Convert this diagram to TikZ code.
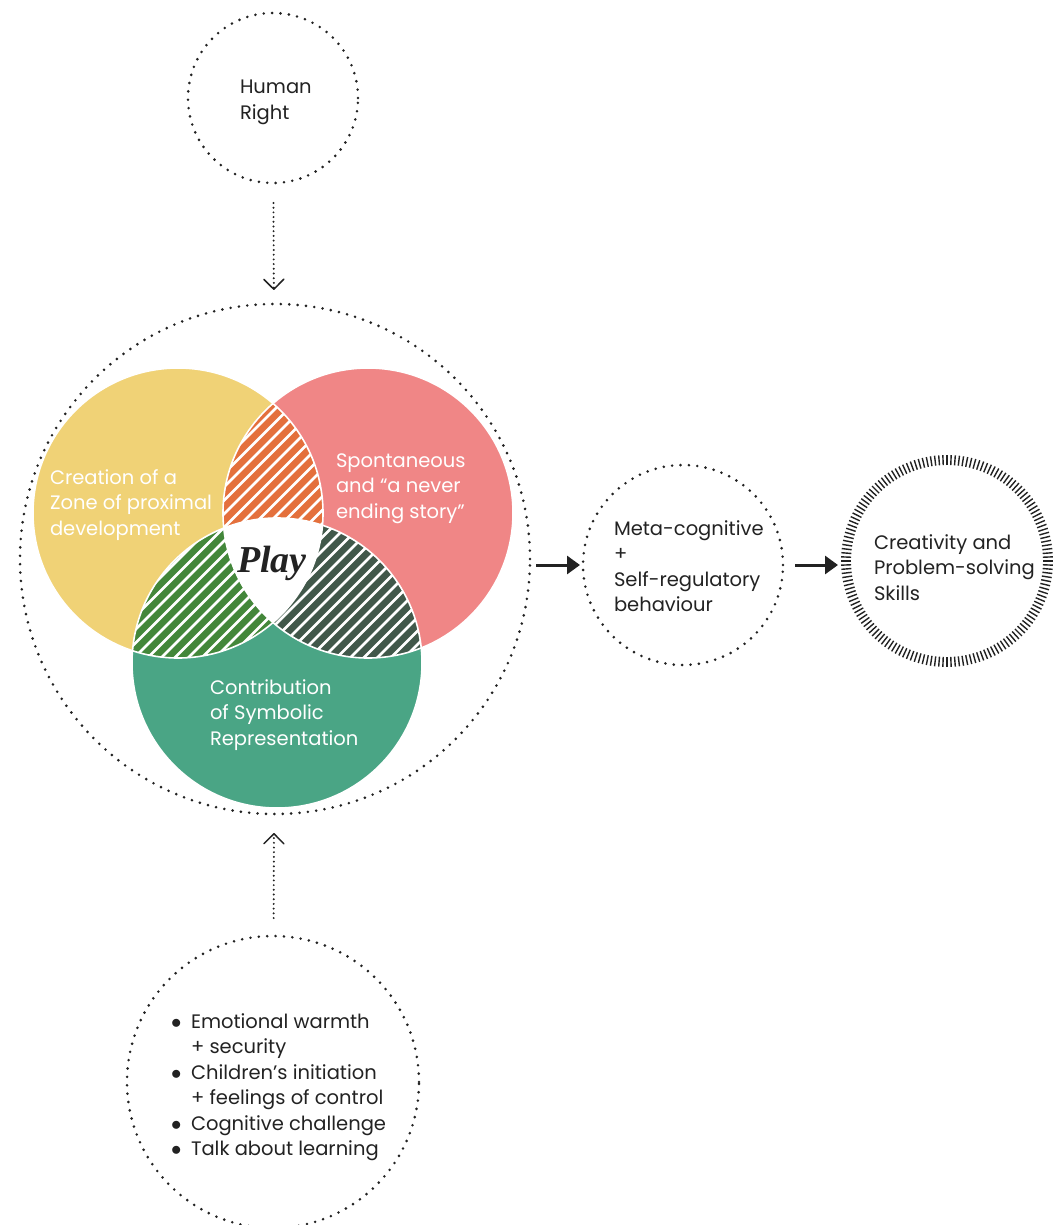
\documentclass[tikz,border=0pt]{standalone}
\usepackage{fontspec}
\setmainfont{Poppins}
\newfontfamily\playfont{Liberation Serif}
\usetikzlibrary{arrows.meta}

\definecolor{ink}{RGB}{34,34,34}
\definecolor{venyellow}{RGB}{240,210,118}
\definecolor{venpink}{RGB}{240,134,134}
\definecolor{venteal}{RGB}{74,165,133}
\definecolor{venorange}{RGB}{228,112,60}
\definecolor{vengreen}{RGB}{67,135,58}
\definecolor{vendark}{RGB}{65,88,74}

% left-aligned block of lines whose baseline is the first line
\newcommand{\txtblock}[1]{\begin{tabular}[t]{@{}l@{}}#1\end{tabular}}
% diagonal white stripes across the Venn area (used inside clips)
\newcommand{\hatchrows}{\foreach \k in {-32,...,32} \draw[hatchline] (\k*13.5,900) -- ++(600,-600);}
\newcommand{\dotitem}{\makebox[20pt][l]{$\bullet$}}

\begin{document}
\begin{tikzpicture}[x=1pt,y=-1pt,
  dotring/.style={circle, draw=ink, line width=2.9pt, line cap=round,
    dash pattern=on 0pt off 8.4pt, inner sep=0pt, outer sep=0pt},
  plainring/.style={circle, inner sep=0pt, outer sep=0pt},
  txt/.style={anchor=base west, inner sep=0pt, outer sep=0pt, text=ink,
    font=\fontsize{19.5}{25.5}\selectfont},
  vtxt/.style={txt, text=white},
  dotlink/.style={draw=ink, line width=2.2pt, line cap=round,
    dash pattern=on 0pt off 4.7pt,
    -{Straight Barb[length=10pt,width=20pt,line width=1.5pt,round]}},
  solidlink/.style={draw=ink, line width=3pt,
    -{Triangle[length=13pt,width=18pt]}},
  hatchline/.style={white, line width=2.6pt},
  rim/.style={white, line width=1.6pt},
  tickmark/.style={ink, line width=1.4pt}
]
\useasboundingbox (0,0) rectangle (1061,1225);
\clip (0,0) rectangle (1061,1225);

% ---------- Venn diagram ----------
\coordinate (cy) at (178,513);
\coordinate (cp) at (368,513);
\coordinate (cg) at (277,663);
\def\vr{145pt}

\fill[venyellow] (cy) circle[radius=\vr];
\fill[venpink]   (cp) circle[radius=\vr];
\fill[venteal]   (cg) circle[radius=\vr];

\begin{scope}
  \clip (cy) circle[radius=\vr];
  \clip (cp) circle[radius=\vr];
  \fill[venorange] (0,300) rectangle (600,820);
  \hatchrows
\end{scope}
\begin{scope}
  \clip (cy) circle[radius=\vr];
  \clip (cg) circle[radius=\vr];
  \fill[vengreen] (0,300) rectangle (600,820);
  \hatchrows
\end{scope}
\begin{scope}
  \clip (cp) circle[radius=\vr];
  \clip (cg) circle[radius=\vr];
  \fill[vendark] (0,300) rectangle (600,820);
  \hatchrows
\end{scope}
\begin{scope}
  \clip (cy) circle[radius=\vr];
  \clip (cp) circle[radius=\vr];
  \fill[white] (cg) circle[radius=\vr];
\end{scope}

\draw[rim] (cy) circle[radius=\vr];
\draw[rim] (cp) circle[radius=\vr];
\draw[rim] (cg) circle[radius=\vr];

\node[vtxt] (zpd) at (50,484) {\txtblock{Creation of a\\Zone of proximal\\development}};
\node[vtxt] (spont) at (336,467) {\txtblock{Spontaneous\\and “a never\\ending story”}};
\node[vtxt] (symb) at (210,694) {\txtblock{Contribution\\of Symbolic\\Representation}};
\node[anchor=base, inner sep=0pt, text=ink,
  font=\playfont\bfseries\itshape\fontsize{38}{38}\selectfont] (play) at (272,572) {Play};

% ---------- rings ----------
\node[dotring, minimum size=510pt] (venn) at (275,559) {};
\node[dotring, minimum size=170pt] (hr) at (273,98) {};
\node[dotring, minimum size=200pt] (meta) at (683,565) {};
\node[plainring, minimum size=212pt] (skills) at (947,561) {};
\node[dotring, minimum size=292pt] (cond) at (273,1082) {};

\begin{scope}[shift={(skills.center)}]
  \foreach \a in {0,2.25,...,357.9}
    \draw[tickmark] (\a:96pt) -- (\a:106pt);
\end{scope}

% ---------- texts ----------
\node[txt] (hrtext) at (240,94) {\txtblock{Human\\Right}};
\node[txt] (metatext) at (614,535) {\txtblock{Meta-cognitive\\+\\Self-regulatory\\behaviour}};
\node[txt] (skillstext) at (874,549) {\txtblock{Creativity and\\Problem-solving\\Skills}};
\node[txt] (condtext) at (171,1028) {\begin{tabular}[t]{@{}l@{}l@{}}
  \dotitem & Emotional warmth\\
   & + security\\
  \dotitem & Children’s initiation\\
   & + feelings of control\\
  \dotitem & Cognitive challenge\\
  \dotitem & Talk about learning
\end{tabular}};

% ---------- connectors ----------
\draw[dotlink, shorten <=20pt, shorten >=14pt] (hr) -- (venn);
\draw[dotlink, shorten <=18pt, shorten >=19pt] (cond) -- (venn);
\draw[solidlink, shorten <=6pt, shorten >=3pt] (venn.east |- meta.west) -- (meta.west);
\draw[solidlink, shorten <=12pt, shorten >=3pt] (meta.east) -- (meta.east -| skills.west);
\end{tikzpicture}
\end{document}
